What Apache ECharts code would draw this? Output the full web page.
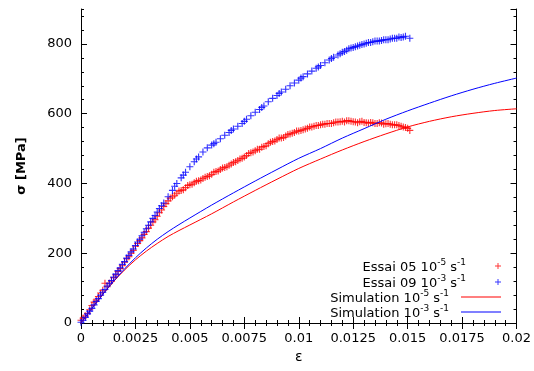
<!DOCTYPE html>
<html><head><meta charset="utf-8">
<script src="https://cdn.jsdelivr.net/npm/echarts@6/dist/echarts.min.js"></script>
<style>html,body{margin:0;padding:0;background:#fff}#c{width:534px;height:371px}</style>
</head><body><div id="c"></div>
<script>
// ---- data (strain ε, stress σ in MPa) ----
const essai05 = [
 [0,8],[0.0001,14],[0.0002,20],[0.0004,38],[0.0006,60],[0.0008,76],[0.001,94],[0.0011,114],[0.0012,104],
 [0.0014,120],[0.0016,138],[0.0018,156],[0.002,174],[0.0022,190],[0.0024,208],[0.0026,228],[0.0028,244],
 [0.003,262],[0.0032,280],[0.0034,296],[0.0036,316],[0.0038,334],[0.004,350],[0.0042,362],[0.0044,372],
 [0.0046,380],[0.0048,388],[0.005,396],[0.0052,402],[0.0054,408],[0.0056,414],[0.0058,420],[0.006,426],
 [0.0062,434],[0.0064,440],[0.0066,446],[0.0068,452],[0.007,460],[0.0072,466],[0.0074,472],[0.0076,480],
 [0.0078,488],[0.008,494],[0.0082,498],[0.0084,506],[0.0086,514],[0.0088,520],[0.009,526],[0.0092,530],
 [0.0094,536],[0.0096,542],[0.0098,546],[0.01,550],[0.0102,554],[0.0104,558],[0.0106,562],[0.0108,566],
 [0.011,568],[0.0112,570],[0.0114,572],[0.0116,574],[0.0118,576],[0.012,578],[0.0122,580],[0.0124,578],
 [0.0126,576],[0.0128,577],[0.013,575],[0.0132,573],[0.0134,574],[0.0136,572],[0.0138,573],[0.014,571],
 [0.0142,570],[0.0144,568],[0.0146,566],[0.0148,562],[0.015,558],[0.0151,552],
 [0.0003,28],[0.0005,50],[0.0007,66],[0.0009,86],[0.0013,114],[0.0015,130],[0.0017,148],[0.0019,164],
 [0.0021,184],[0.0023,200],[0.0025,220],[0.0027,236],[0.0029,254],[0.0031,272],[0.0033,290],[0.0035,306],
 [0.0037,324],[0.0039,342],[0.0041,358],[0.0043,366],[0.0045,378],[0.0047,382],[0.0049,394],[0.0051,398],
 [0.0053,406],[0.0055,410],[0.0057,418],[0.0059,422],[0.0061,432],[0.0063,436],[0.0065,444],[0.0067,448],
 [0.0069,456],[0.0071,462],[0.0073,470],[0.0075,476],[0.0077,486],[0.0079,490],[0.0081,498],[0.0083,504],
 [0.0085,508],[0.0087,518],[0.0089,522],[0.0091,530],[0.0093,532],[0.0095,540],[0.0097,544],[0.0099,550],
 [0.0101,552],[0.0103,556],[0.0105,562],[0.0107,564],[0.0109,566],[0.0111,570],[0.0113,572],[0.0115,572],
 [0.0117,576],[0.0119,577],[0.0121,576],[0.0123,580],[0.0125,577],[0.0127,574],[0.0129,578],[0.0131,574],
 [0.0133,575],[0.0135,572],[0.0137,574],[0.0139,570],[0.0141,572],[0.0143,568],[0.0145,568],[0.0147,564],
 [0.0149,560]
];
const essai09 = [
 [0,2],[0.0002,16],[0.0004,34],[0.0006,52],[0.0008,70],[0.001,88],[0.0012,106],[0.0014,122],[0.0016,140],
 [0.0018,158],[0.002,176],[0.0022,194],[0.0024,212],[0.0026,232],[0.0028,250],[0.003,270],[0.0032,290],
 [0.0034,308],[0.0036,328],[0.0038,344],[0.004,362],[0.0042,380],[0.0044,400],[0.0046,416],[0.0048,432],
 [0.005,448],[0.0052,462],[0.0054,476],[0.0056,490],[0.0058,502],[0.006,510],[0.0062,518],[0.0064,528],
 [0.0066,538],[0.0068,546],[0.007,556],[0.0072,564],[0.0074,572],[0.0076,584],[0.0078,594],[0.008,604],
 [0.0082,612],[0.0084,622],[0.0086,634],[0.0088,644],[0.009,652],[0.0092,662],[0.0094,670],[0.0096,680],
 [0.0098,688],[0.01,696],[0.0102,706],[0.0104,714],[0.0106,722],[0.0108,730],[0.011,738],[0.0112,746],
 [0.0114,754],[0.0116,762],[0.0118,768],[0.012,776],[0.0122,782],[0.0124,788],[0.0126,792],[0.0128,796],
 [0.013,800],[0.0132,804],[0.0134,806],[0.0136,808],[0.0138,810],[0.014,812],[0.0142,814],[0.0144,816],
 [0.0146,820],[0.0148,820],[0.0149,822],[0.0151,816],
 [0.0001,8],[0.0003,26],[0.0005,42],[0.0007,62],[0.0009,80],[0.0011,96],[0.0013,114],[0.0015,132],
 [0.0017,150],[0.0019,168],[0.0021,186],[0.0023,204],[0.0025,222],[0.0027,240],[0.0029,260],[0.0031,280],
 [0.0033,300],[0.0035,318],[0.0037,336],[0.0043,392],[0.0047,424],[0.0053,470],[0.0061,514],[0.0069,552],
 [0.0075,578],[0.0083,618],[0.0091,658],[0.0101,702],[0.0109,734],[0.0115,758],[0.0119,772],[0.0121,778],
 [0.0123,786],[0.0125,790],[0.0127,794],[0.0129,798],[0.0131,802],[0.0133,804],[0.0135,808],[0.0137,808],
 [0.0139,812],[0.0141,812],[0.0143,816],[0.0145,816],[0.0147,818]
];
const simStrain = [0,0.0005,0.001,0.0015,0.002,0.0025,0.003,0.0035,0.004,0.0045,0.005,0.006,0.007,0.008,0.009,
                   0.010,0.011,0.012,0.013,0.014,0.015,0.016,0.017,0.018,0.019,0.020];
const simSlow = [0,42,82,119,152,181,206,228,248,265,281,313,347,380,412,443,470,496,520,542,562,578,591,601,609,614];
const simFast = [0,42,82,120,155,187,215,240,262,282,301,338,373,407,440,472,500,530,557,584,608,630,651,670,687,702];
const seriesNames = ['Essai 05 10^-5 s^-1','Essai 09 10^-3 s^-1','Simulation 10^-5 s^-1','Simulation 10^-3 s^-1'];
const xTicks = {min:0, max:0.02, step:0.0025};
const yTicks = {min:0, max:900, step:200, minorStep:40};

// ---- chart ----
const FONT = 'DejaVu Sans';
const RED = '#ff0000', BLUE = '#0000ff';
const PLUS = 'path://M4.2,0H5.8V10H4.2ZM0,4.2H10V5.8H0Z';
const zip = (xs, ys) => xs.map((x, i) => [x, ys[i]]);

const fmtLegend = n => '{t|' + n.replace(/\^(-?\d+)/g, '}{sup|$1}{t|') + '}';
const legendText = {
  color:'#000', fontFamily:FONT, fontSize:13, padding:[0,7,0,0],
  rich:{ t:{fontFamily:FONT, fontSize:13, color:'#000', lineHeight:16, verticalAlign:'bottom'},
         sup:{fontFamily:FONT, fontSize:9, color:'#000', lineHeight:10, verticalAlign:'top'} }
};
const legendTops = [258, 274, 289, 304];
const legends = seriesNames.map((n, i) => ({
  orient:'horizontal', align:'right', right:33, top:legendTops[i], padding:0,
  itemWidth:40, itemHeight: i < 2 ? 6 : 1.2, selectedMode:false,
  data:[ i < 2 ? {name:n, icon:PLUS} : {name:n, icon:'rect'} ],
  formatter: fmtLegend, textStyle: legendText
}));

const axLine = {show:true, lineStyle:{color:'#000', width:1}};
const xFmt = v => v === 0 ? '0' : String(+v.toFixed(5));
const baseX = pos => ({
  type:'value', position:pos, min:xTicks.min, max:xTicks.max, interval:xTicks.step,
  axisLine:axLine, axisTick:{show:true, inside:true, length:6, lineStyle:{color:'#000'}},
  minorTick:{show:true, splitNumber:5, length:3, lineStyle:{color:'#000'}},
  splitLine:{show:false}, minorSplitLine:{show:false},
  axisLabel:{show:pos === 'bottom', formatter:xFmt, color:'#000', fontFamily:FONT, fontSize:13, margin:9}
});
const majorY = pos => ({
  type:'value', position:pos, min:yTicks.min, max:yTicks.max, interval:yTicks.step,
  axisLine:axLine, axisTick:{show:true, inside:true, length:6, lineStyle:{color:'#000'}},
  splitLine:{show:false},
  axisLabel:{show:pos === 'left', showMaxLabel:false, color:'#000', fontFamily:FONT, fontSize:13, margin:9}
});
const minorY = pos => ({
  type:'value', position:pos, min:yTicks.min, max:yTicks.max, interval:yTicks.minorStep,
  axisLine:{show:false}, axisTick:{show:true, inside:true, length:3, lineStyle:{color:'#000'}},
  splitLine:{show:false}, axisLabel:{show:false}
});

const xb = baseX('bottom');
Object.assign(xb, {name:'ε', nameLocation:'middle', nameGap:26,
  nameTextStyle:{color:'#000', fontFamily:FONT, fontSize:14}});
const yl = majorY('left');
Object.assign(yl, {name:'σ [MPa]', nameLocation:'middle', nameGap:53,
  nameTextStyle:{color:'#000', fontFamily:FONT, fontSize:13, fontWeight:'bold'}});

const option = {
  animation:false,
  backgroundColor:'#fff',
  grid:{left:81, right:15, top:9, bottom:48, containLabel:false},
  xAxis:[xb, baseX('top')],
  yAxis:[yl, minorY('left'), majorY('right'), minorY('right')],
  legend:legends,
  series:[
    {name:seriesNames[0], type:'scatter', data:essai05, symbol:PLUS, symbolSize:7, itemStyle:{color:RED}, z:2},
    {name:seriesNames[1], type:'scatter', data:essai09, symbol:PLUS, symbolSize:7, itemStyle:{color:BLUE}, z:2},
    {name:seriesNames[2], type:'line', data:zip(simStrain, simSlow), smooth:0.3, showSymbol:false, symbol:'none',
     lineStyle:{color:RED, width:1}, itemStyle:{color:RED}, z:3},
    {name:seriesNames[3], type:'line', data:zip(simStrain, simFast), smooth:0.3, showSymbol:false, symbol:'none',
     lineStyle:{color:BLUE, width:1}, itemStyle:{color:BLUE}, z:3}
  ]
};
echarts.init(document.getElementById('c'), null, {renderer:'canvas'}).setOption(option);
</script></body></html>
